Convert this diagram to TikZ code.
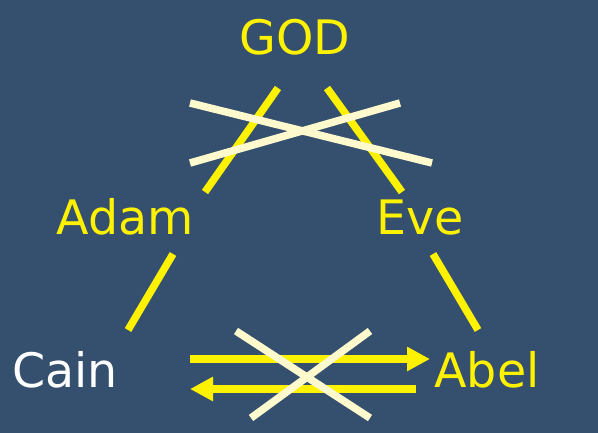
\documentclass[tikz,border=0pt]{standalone}
\usepackage{fontspec}
\setmainfont{DejaVu Sans}
\usetikzlibrary{arrows.meta}
\definecolor{slide}{RGB}{53,80,111}
\definecolor{crossout}{RGB}{255,250,205}
\tikzset{
  person/.style={font=\fontsize{47.5}{52}\selectfont, yellow, anchor=base, inner sep=0pt},
  link/.style={yellow, line width=7.5pt},
  cancel/.style={crossout, line width=7.5pt},
  flow/.style={yellow, line width=8pt, -{Triangle[length=23pt, width=23pt]}}
}

\begin{document}
\begin{tikzpicture}[x=1pt, y=-1pt]
  % Fond
  \fill[slide] (0,0) rectangle (598,433);

  % Noms
  \node[person] (god)  at (295,55)  {GOD};
  \node[person] (adam) at (125,235) {Adam};
  \node[person] (eve)  at (420,235) {Eve};
  \node[person, white] (cain) at (65,388) {Cain};
  \node[person] (abel) at (487,388) {Abel};

  % Extrémités des liens
  \coordinate (ga1) at (278,88);  \coordinate (ga2) at (205,192);
  \coordinate (ge1) at (327,88);  \coordinate (ge2) at (402,192);
  \coordinate (ac1) at (173,254); \coordinate (ac2) at (128,330);
  \coordinate (eb1) at (433,254); \coordinate (eb2) at (478,330);
  \coordinate (ca1) at (190,359); \coordinate (ca2) at (430,359);
  \coordinate (ba1) at (416,389); \coordinate (ba2) at (190,389);

  % Liens de parenté
  \draw[link] (ga1) -- (ga2);
  \draw[link] (ge1) -- (ge2);
  \draw[link] (ac1) -- (ac2);
  \draw[link] (eb1) -- (eb2);

  % Flèches Cain <-> Abel
  \draw[flow] (ca1) -- (ca2);
  \draw[flow] (ba1) -- (ba2);

  % Croix en haut
  \draw[cancel] (190,103) -- (432,163);
  \draw[cancel] (190,163) -- (400,103);

  % Croix en bas
  \draw[cancel] (236,331) -- (370,418);
  \draw[cancel] (370,331) -- (251,418);
\end{tikzpicture}
\end{document}
